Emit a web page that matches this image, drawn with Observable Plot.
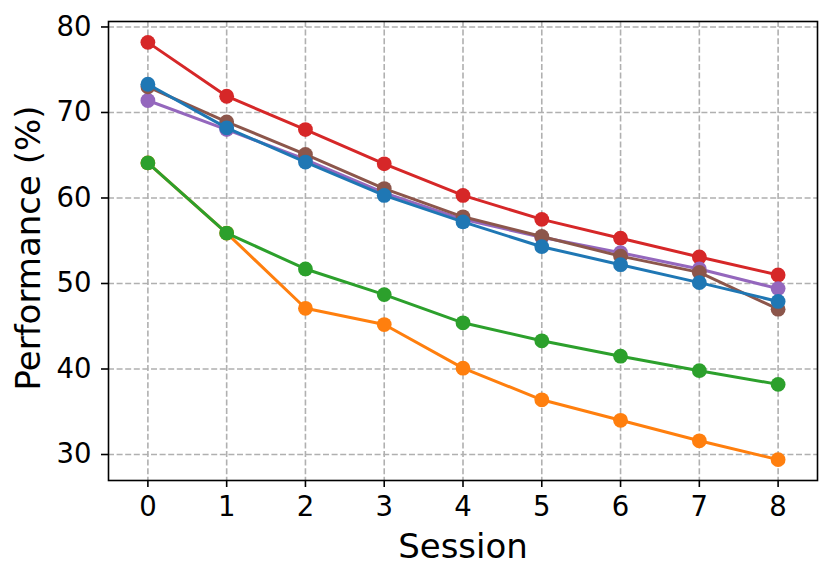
<!DOCTYPE html>
<html>
<head>
<meta charset="utf-8">
<script src="https://cdn.jsdelivr.net/npm/d3@7"></script>
<script src="https://cdn.jsdelivr.net/npm/@observablehq/plot@0.6"></script>
<style>
  html, body { margin: 0; padding: 0; background: white; }
  #chart svg { display: block; }
</style>
</head>
<body>
<div id="chart"></div>
<script>
const sessions = [0, 1, 2, 3, 4, 5, 6, 7, 8];
const yTicks = [30, 40, 50, 60, 70, 80];

const orangeSeries = [64.1, 55.9, 47.1, 45.2, 40.1, 36.4, 34.0, 31.6, 29.4];
const greenSeries  = [64.1, 55.9, 51.7, 48.7, 45.4, 43.3, 41.5, 39.8, 38.2];
const redSeries    = [78.2, 71.9, 68.0, 64.0, 60.3, 57.5, 55.3, 53.1, 51.0];
const purpleSeries = [71.4, 68.0, 64.5, 60.6, 57.5, 55.4, 53.6, 51.7, 49.4];
const brownSeries  = [73.0, 68.9, 65.1, 61.1, 57.8, 55.5, 53.2, 51.3, 47.0];
const blueSeries   = [73.3, 68.2, 64.2, 60.3, 57.2, 54.3, 52.2, 50.1, 47.9];

const seriesNames  = ["orange", "green", "red", "purple", "brown", "blue"];
const seriesValues = [orangeSeries, greenSeries, redSeries, purpleSeries, brownSeries, blueSeries];
const seriesColors = ["#ff7f0e", "#2ca02c", "#d62728", "#9467bd", "#8c564b", "#1f77b4"];

const seriesMarks = seriesNames.flatMap((name, i) => {
  const rows = sessions.map((s, j) => ({session: s, value: seriesValues[i][j], method: name}));
  return [
    Plot.line(rows, {x: "session", y: "value", stroke: seriesColors[i], strokeWidth: 3}),
    Plot.dot(rows, {x: "session", y: "value", fill: seriesColors[i], r: 7.4, stroke: "none"})
  ];
});

const gridStyle = {stroke: "#b0b0b0", strokeOpacity: 1, strokeWidth: 1.6, strokeDasharray: "6,2.6"};

const chart = Plot.plot({
  width: 832,
  height: 580,
  marginLeft: 108,
  marginRight: 15,
  marginTop: 21,
  marginBottom: 100,
  style: {fontFamily: "DejaVu Sans", background: "white", color: "black", overflow: "visible"},
  x: {domain: [-0.5, 8.5]},
  y: {domain: [26.96, 80.64]},
  marks: [
    Plot.gridX(sessions, gridStyle),
    Plot.gridY(yTicks, gridStyle),
    ...seriesMarks,
    Plot.frame({stroke: "black", strokeWidth: 1.6}),
    Plot.axisX(sessions, {tickSize: 7, tickPadding: 9, fontSize: 27.5, strokeWidth: 1.6, label: null, tickFormat: d => String(d)}),
    Plot.axisY(yTicks, {tickSize: 7, tickPadding: 10, fontSize: 27.5, strokeWidth: 1.6, label: null, tickFormat: d => String(d)}),
    Plot.text(["Session"], {frameAnchor: "bottom", dy: 67, fontSize: 34, lineAnchor: "middle", textAnchor: "middle", text: d => d}),
    Plot.text(["Performance (%)"], {frameAnchor: "left", dx: -79, dy: -3, rotate: -90, fontSize: 34, lineAnchor: "middle", textAnchor: "middle", text: d => d})
  ]
});
document.getElementById("chart").appendChild(chart);
</script>
</body>
</html>
